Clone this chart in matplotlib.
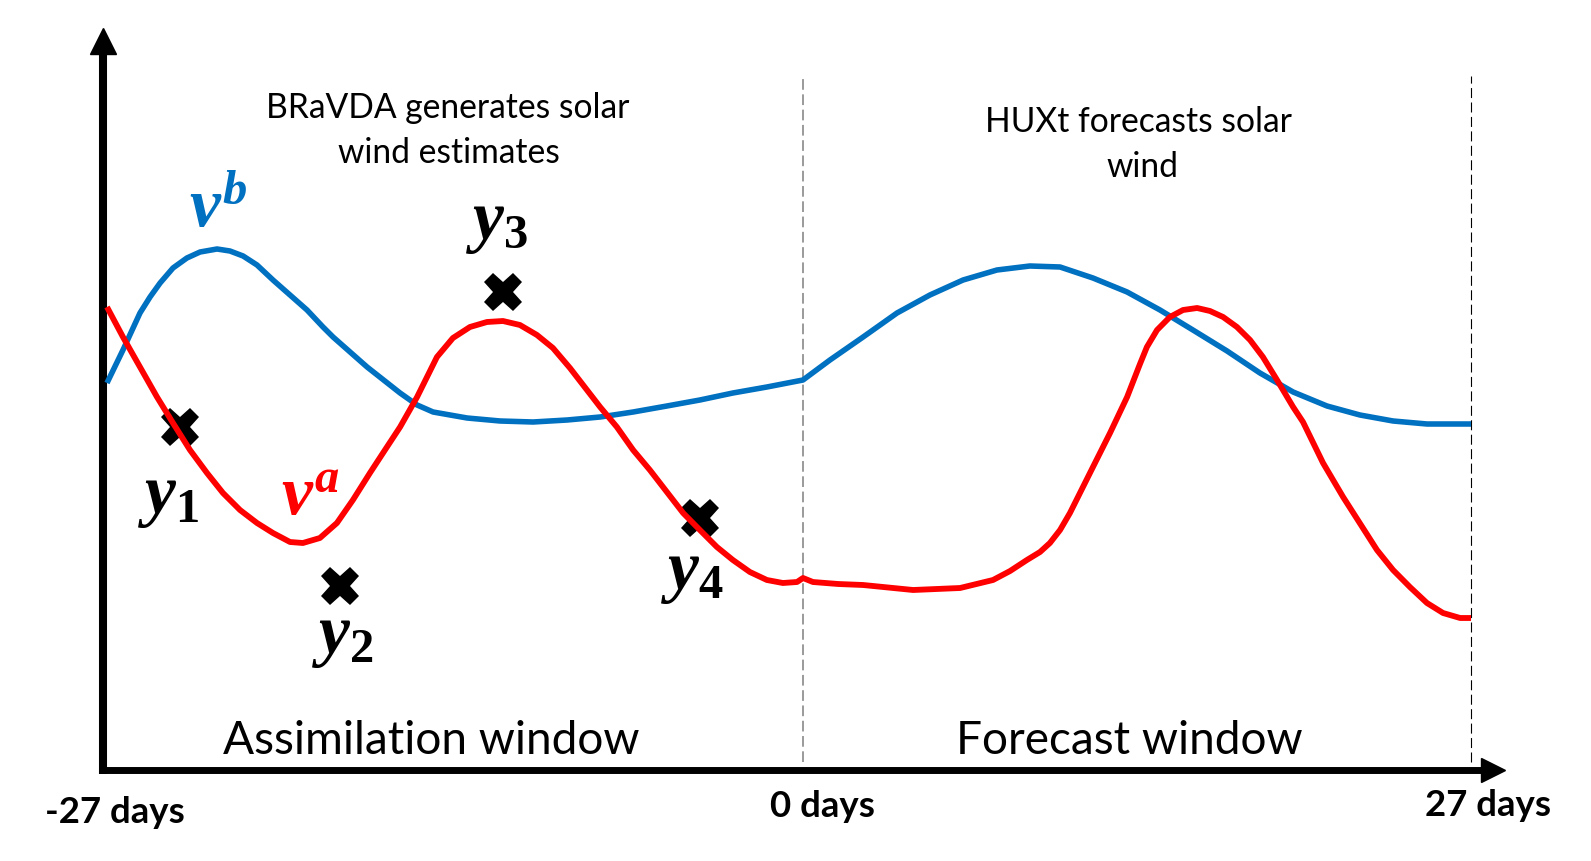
import numpy as np
import matplotlib
matplotlib.use('Agg')
import matplotlib.pyplot as plt
from matplotlib.transforms import ScaledTranslation

plt.rcParams['font.family'] = ['Lato', 'DejaVu Sans']
plt.rcParams['mathtext.fontset'] = 'custom'
plt.rcParams['mathtext.it'] = 'Liberation Serif:italic:bold'
plt.rcParams['mathtext.rm'] = 'Liberation Serif:bold'
plt.rcParams['mathtext.bf'] = 'Liberation Serif:bold'

# ---------------- data (days relative to forecast time, schematic speed units) ----------------
days_b = [-27.00, -26.38, -25.72, -25.33, -24.94, -24.44, -23.90, -23.39, -22.73, -22.23,
          -21.72, -21.18, -20.56, -19.90, -19.24, -18.62, -18.23, -16.91, -15.63, -14.97,
          -14.35, -13.03, -11.75, -10.47, -9.15, -7.87, -6.59, -5.28, -4.00, -2.72,
          -1.40, 0.00, 1.09, 2.43, 3.80, 5.13, 6.47, 7.84, 9.17, 10.39,
          11.72, 13.10, 14.43, 15.76, 17.14, 18.47, 19.81, 21.18, 22.51, 23.85,
          25.22, 27.00]
speed_b = [387, 420, 457, 473, 487, 502, 512, 518, 521, 519,
           514, 505, 490, 475, 460, 443, 433, 403, 377, 365,
           358, 352, 349, 348, 350, 353, 358, 364, 370, 377,
           383, 390, 410, 433, 457, 475, 490, 500, 504, 503,
           492, 478, 460, 440, 419, 397, 378, 364, 355, 349,
           346, 346]

days_a = [-27.00, -26.38, -25.72, -25.06, -24.44, -23.78, -23.12, -22.50, -21.84, -21.18,
          -20.56, -19.90, -19.40, -18.74, -18.08, -17.46, -16.80, -16.14, -15.63, -14.97,
          -14.20, -13.58, -12.92, -12.26, -11.64, -10.98, -10.32, -9.70, -9.04, -8.53,
          -7.87, -7.22, -6.59, -5.94, -5.28, -4.65, -4.00, -3.34, -2.72, -2.06,
          -1.40, -0.78, -0.23, 0.00, 0.40, 1.42, 2.43, 4.45, 6.35, 7.68,
          8.37, 9.05, 9.58, 9.98, 10.39, 10.79, 11.72, 12.41, 13.10, 13.62,
          13.90, 14.31, 14.83, 15.36, 15.93, 16.45, 16.98, 17.54, 18.07, 18.59,
          19.16, 19.81, 20.21, 21.02, 21.83, 23.20, 23.85, 24.53, 25.22, 25.87,
          26.56, 27.00]
speed_a = [463, 433, 403, 373, 347, 320, 297, 277, 260, 247,
           237, 228, 227, 232, 247, 270, 297, 323, 343, 373,
           413, 432, 443, 448, 449, 445, 435, 422, 402, 385,
           363, 343, 320, 300, 278, 257, 240, 223, 210, 198,
           190, 187, 188, 192, 188, 186, 185, 180, 182, 190,
           199, 210, 218, 227, 240, 257, 303, 337, 373, 406,
           423, 440, 453, 460, 462, 459, 453, 443, 430, 413,
           390, 363, 348, 307, 273, 220, 200, 183, 167, 157,
           152, 152]

obs_days = [-24.17, -17.96, -11.64, -4.00]
obs_speed = [343, 184, 478, 252]
obs_labels = ['$y_1$', '$y_2$', '$y_3$', '$y_4$']

window_edges = [0, 27]
tick_days = [-27, 0, 27]
tick_labels = ['-27 days', '0 days', '27 days']
window_names = ['Assimilation window', 'Forecast window']
window_notes = [['BRaVDA generates solar', 'wind estimates'],
                ['HUXt forecasts solar', 'wind']]
curve_labels = ['$v^b$', '$v^a$']

BLUE = '#0070C0'
RED = '#FF0000'

# ---------------- figure / axes ----------------
fig = plt.figure(figsize=(15.91, 8.61), dpi=100)
ax = fig.add_axes([0, 0, 1, 1])

FCST = 668 / 696  # forecast window drawn slightly narrower than assimilation window


def fwd(d):
    d = np.asarray(d, dtype=float)
    return np.where(d < 0, d, d * FCST)


def inv(u):
    u = np.asarray(u, dtype=float)
    return np.where(u < 0, u, u / FCST)


ax.set_xscale('function', functions=(fwd, inv))
ax.set_xlim(-31.15, 31.85)
ax.set_ylim(-91, 770)

for s in ['top', 'right']:
    ax.spines[s].set_visible(False)
ax.spines['left'].set_position(('data', -27.155))
ax.spines['bottom'].set_position(('data', 0))
ax.spines['left'].set_linewidth(5.8)
ax.spines['bottom'].set_linewidth(5.0)
ax.spines['left'].set_bounds(-3.5, 722)
ax.spines['bottom'].set_bounds(-27.32, 27.6)
ax.spines['left'].set_capstyle('butt')
ax.spines['bottom'].set_capstyle('butt')
ax.set_yticks([])
ax.set_xticks(tick_days, tick_labels)
ax.tick_params(axis='x', length=0, pad=0)

# arrow heads
ax.plot([-27.155], [729], marker='^', ms=18.7, color='black', clip_on=False, zorder=5)
ax.plot([27.87], [0], marker='>', ms=16.6, color='black', clip_on=False, zorder=5)

# window boundaries
ax.vlines(window_edges[0], 8, 693, colors='#7F7F7F', lw=1.1, linestyles=(0, (7, 3)), zorder=1)
ax.vlines(window_edges[1], 8, 694, colors='black', lw=0.8, linestyles=(0, (9, 4)), zorder=1)

# curves
ax.plot(days_b, speed_b, color=BLUE, lw=4.0, solid_capstyle='butt', solid_joinstyle='round', zorder=3)
ax.plot(obs_days, obs_speed, ls='none', marker='X', ms=28, color='black', mew=0, zorder=3.5)
ax.plot(days_a, speed_a, color=RED, lw=4.2, solid_capstyle='butt', solid_joinstyle='round', zorder=4)

# ---------------- text ----------------
renderer = fig.canvas.get_renderer()


def fit(text, width_px, **kw):
    t = fig.text(0, 0, text, fontsize=100, **kw)
    w = t.get_window_extent(renderer).width
    t.remove()
    return 100.0 * width_px / w


tick_fs = fit(tick_labels[0], 140, fontweight='bold')
label_dx = [8, 19, 17]
label_dy = [-53, -47, -46]
for lab, dx, dy in zip(ax.get_xticklabels(), label_dx, label_dy):
    lab.set_fontsize(tick_fs)
    lab.set_fontweight('bold')
    lab.set_verticalalignment('baseline')
    lab.set_transform(lab.get_transform() + ScaledTranslation(dx / 100, dy / 100, fig.dpi_scale_trans))

win_fs = fit(window_names[0], 417)
ax.text(-14.41, 16, window_names[0], fontsize=win_fs, ha='center', va='baseline')
ax.text(13.18, 16, window_names[1], fontsize=win_fs, ha='center', va='baseline')

note_fs = fit(window_notes[0][0], 363)
ax.text(-13.77, 652, window_notes[0][0], fontsize=note_fs, ha='center', va='baseline')
ax.text(-13.73, 607, window_notes[0][1], fontsize=note_fs, ha='center', va='baseline')
ax.text(13.54, 638, window_notes[1][0], fontsize=note_fs, ha='center', va='baseline')
ax.text(13.70, 593, window_notes[1][1], fontsize=note_fs, ha='center', va='baseline')

MATH_FS = 50
obs_label_pos = [(-24.60, 272), (-17.85, 131), (-11.87, 545), (-4.30, 195)]
for lab, (x, y) in zip(obs_labels, obs_label_pos):
    ax.text(x, y, lab, fontsize=MATH_FS, color='black', ha='center', va='center')
ax.text(-22.70, 563, curve_labels[0], fontsize=MATH_FS, color=BLUE, ha='center', va='center')
ax.text(-19.13, 275, curve_labels[1], fontsize=MATH_FS, color=RED, ha='center', va='center')

fig.savefig('out.png', dpi=100)
